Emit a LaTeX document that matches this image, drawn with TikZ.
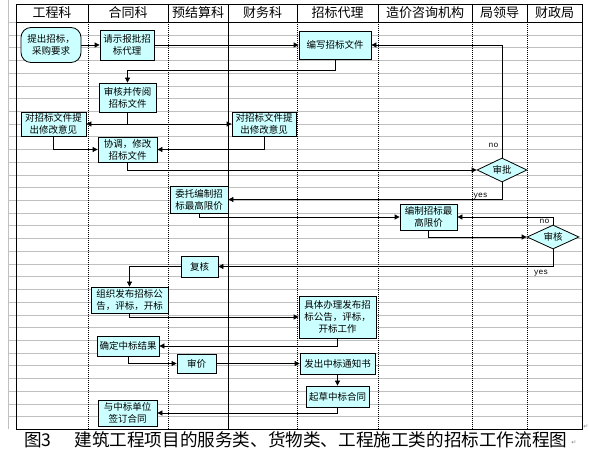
\documentclass[tikz,border=0pt]{standalone}
\usepackage{fontspec}
\newfontfamily\cjk{Noto Sans CJK SC}
\newfontfamily\ynfont{Liberation Mono}
\newfontfamily\symfont{DejaVu Sans}
\usetikzlibrary{arrows.meta,shapes.geometric}
\definecolor{boxcyan}{RGB}{204,255,255}
\definecolor{gridgray}{RGB}{192,192,192}

\begin{document}
\begin{tikzpicture}[x=1pt,y=-1pt,
    box/.style={draw, line width=0.8pt, fill=boxcyan, align=center, inner sep=1pt,
      font=\cjk\fontsize{9.5}{12}\selectfont},
    startbox/.style={box, rounded corners=10pt},
    decide/.style={diamond, draw, line width=0.8pt, fill=boxcyan, aspect=2, inner sep=0pt,
      font=\cjk\fontsize{9.5}{12}\selectfont},
    arr/.style={line width=0.8pt, -{Triangle[length=5pt,width=5pt]}},
    gridline/.style={gridgray, line width=0.6pt},
    lanesep/.style={line width=0.6pt, dash pattern=on 1pt off 1pt},
    lanehead/.style={font=\cjk\fontsize{13}{14}\selectfont},
    yesno/.style={font=\ynfont\fontsize{8}{8}\selectfont, inner sep=0pt}]
                \useasboundingbox (0,0) rectangle (590,454);

                % Sheet grid
                \draw[gridline] (8,0) -- (8,429);
                \foreach \k in {0,...,30}
                    \draw[gridline] (8,{35+12.72*\k}) -- (582,{35+12.72*\k});
                \draw[gridline] (8,22) -- (16,22);

                % Lanes and frame
                \foreach \x in {88,168,297,378,472,527} {
                    \draw[line width=0.6pt] (\x,4) -- (\x,22);
                    \draw[lanesep] (\x,22) -- (\x,429);
                }
                \draw[line width=0.8pt] (228,4) -- (228,429);
                \draw[line width=0.8pt] (16,4) rectangle (582,429);
                \draw[line width=0.8pt] (16,22) -- (582,22);
                \foreach \x/\t [count=\i] in {52/工程科,128/合同科,198/预结算科,262.5/财务科,
                    337.5/招标代理,425/造价咨询机构,499.5/局领导,554.5/财政局}
                    \node[lanehead] (head\i) at (\x,13) {\t};

                % Tender documents
                \node[startbox, minimum width=60pt, minimum height=35pt] (start) at (51,45) {提出招标，\\采购要求};
                \node[box, minimum width=54pt, minimum height=30pt] (request) at (127,45) {请示报批招\\标代理};
                \node[box, minimum width=72pt, minimum height=28pt] (write) at (335,45) {编写招标文件};
                \node[box, minimum width=57pt, minimum height=29pt] (review) at (127.5,97.5) {审核并传阅\\招标文件};
                \node[box, minimum width=65pt, minimum height=24pt] (optL) at (53.5,124) {对招标文件提\\出修改意见};
                \node[box, minimum width=64pt, minimum height=24pt] (optR) at (264,124) {对招标文件提\\出修改意见};
                \node[box, minimum width=59pt, minimum height=25pt] (revise) at (127.5,149.5) {协调，修改\\招标文件};
                \node[decide, minimum width=50pt, minimum height=24pt] (approve) at (502,170) {审批};

                % Price ceiling
                \node[box, minimum width=58pt, minimum height=27pt] (entrust) at (199,199.5) {委托编制招\\标最高限价};
                \node[box, minimum width=57pt, minimum height=26pt] (ceiling) at (428.5,217) {编制招标最\\高限价};
                \node[decide, minimum width=52pt, minimum height=24pt] (check) at (553,237) {审核};
                \node[box, minimum width=37pt, minimum height=21pt] (recheck) at (199.5,266.5) {复核};

                % Bidding and contract
                \node[box, minimum width=77pt, minimum height=26pt] (publish) at (129.5,300) {组织发布招标公\\告，评标，开标};
                \node[box, minimum width=77pt, minimum height=42pt] (handle) at (337.5,317) {具体办理发布招\\标公告，评标，\\开标工作};
                \node[box, minimum width=62pt, minimum height=20pt] (result) at (128,346) {确定中标结果};
                \node[box, minimum width=39pt, minimum height=19pt] (audit) at (196.5,363.5) {审价};
                \node[box, minimum width=75pt, minimum height=21pt] (notice) at (337.5,363.5) {发出中标通知书};
                \node[box, minimum width=63pt, minimum height=21pt] (draft) at (337.5,396.5) {起草中标合同};
                \node[box, minimum width=59pt, minimum height=26pt] (sign) at (127.5,413) {与中标单位\\签订合同};

                % Connectors
                \draw[arr] (start) -- (request);
                \draw[arr] (request) -- (write);
                \draw[arr] (write.south) -- ++(0,11) -| (review.north);
                \draw[arr] (review.south) |- (optL.east);
                \draw[arr] (review.south) |- (optR.west);
                \draw[arr] (optL.south) |- (revise.west);
                \draw[arr] (optR.south) |- (revise.east);
                \draw[arr] (revise.south) |- (approve.west);
                \draw[arr] (approve.north) |- (write.east);
                \draw[arr] (approve.south) |- (entrust.east);
                \draw[arr] (entrust.south) |- (ceiling.west);
                \draw[arr] (ceiling.south) |- (check.west);
                \draw[arr] (check.north) |- (ceiling.east);
                \draw[arr] (check.south) |- (recheck.east);
                \draw[arr] (recheck.west) -| (publish.north);
                \draw[arr] (publish.south) |- (handle.west);
                \draw[arr] (handle.south) |- (result.east);
                \draw[arr] (result.south) |- (audit.west);
                \draw[arr] (audit) -- (notice);
                \draw[arr] (notice) -- (draft);
                \draw[arr] (draft.south) |- (sign.east);

                % Decision labels
                \node[yesno] (noA) at (493.5,145) {no};
                \node[yesno] (yesA) at (480.5,196.5) {yes};
                \node[yesno] (noB) at (544.5,221) {no};
                \node[yesno] (yesB) at (541,273) {yes};

                % Caption
                \node[anchor=west, inner sep=0pt, font=\cjk\fontsize{17.6}{18}\selectfont] (caption) at (24,440)
                    {图3\hspace{1.3em}建筑工程项目的服务类、货物类、工程施工类的招标工作流程图};
                \node[inner sep=0pt, text=gray, font=\symfont\fontsize{6}{6}\selectfont] (retA) at (586,427) {↵};
                \node[inner sep=0pt, text=gray, font=\symfont\fontsize{6}{6}\selectfont] (retB) at (574,443) {↵};
            \end{tikzpicture}
\end{document}
